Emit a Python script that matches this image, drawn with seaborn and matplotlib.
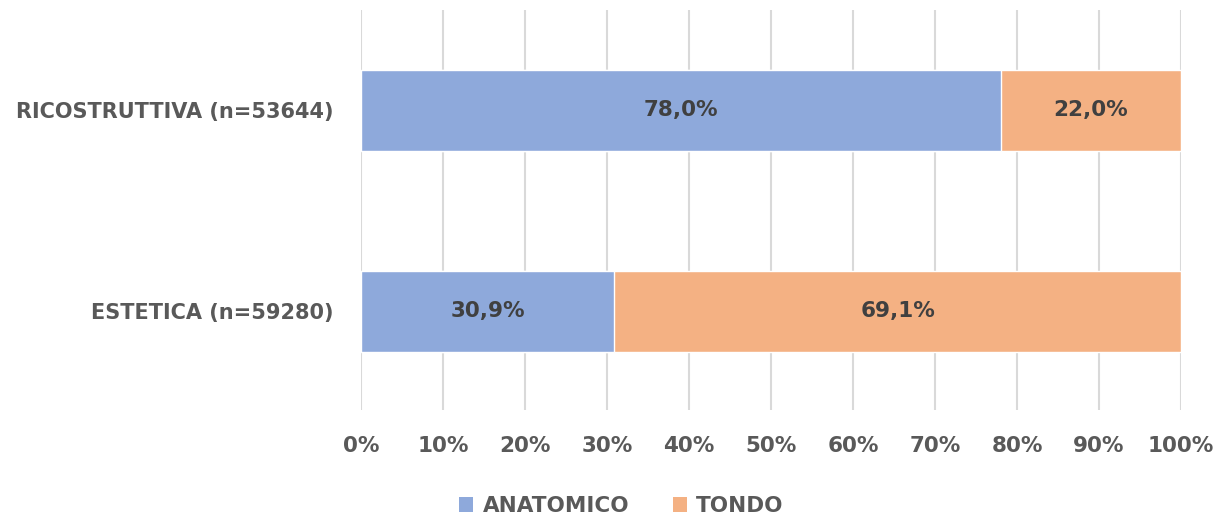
import matplotlib
matplotlib.use("Agg")
import matplotlib.pyplot as plt
from matplotlib.patches import Patch
import seaborn as sns
import pandas as pd

categories = ["RICOSTRUTTIVA (n=53644)", "ESTETICA (n=59280)"]
anatomico = [78.0, 30.9]
tondo = [22.0, 69.1]
series_names = ["ANATOMICO", "TONDO"]
tick_values = [0, 10, 20, 30, 40, 50, 60, 70, 80, 90, 100]

BLUE = "#8EA9DB"
ORANGE = "#F4B183"
TEXT = "#595959"
LABEL = "#404040"

sns.set_theme(style="white")
plt.rcParams["font.family"] = ["DejaVu Sans"]

df = pd.DataFrame({
    "categoria": categories,
    "anatomico": anatomico,
    "tondo": tondo,
})
df["totale"] = df["anatomico"] + df["tondo"]

fig = plt.figure(figsize=(12.26, 5.2), dpi=100)
ax = fig.add_axes([0.2945, 0.2115, 0.9633 - 0.2945, 0.981 - 0.2115])

# stacked bars: full total in orange, anatomico share in blue on top
sns.barplot(data=df, x="totale", y="categoria", orient="h", color=ORANGE,
            width=0.406, saturation=1, ax=ax, zorder=3)
sns.barplot(data=df, x="anatomico", y="categoria", orient="h", color=BLUE,
            width=0.406, saturation=1, ax=ax, zorder=3)

FS = 15.5
for i, (a, t) in enumerate(zip(anatomico, tondo)):
    ax.text(a / 2, i, f"{a:.1f}%".replace(".", ","), ha="center", va="center",
            fontsize=FS, fontweight="bold", color=LABEL, zorder=4)
    ax.text(a + t / 2, i, f"{t:.1f}%".replace(".", ","), ha="center", va="center",
            fontsize=FS, fontweight="bold", color=LABEL, zorder=4)

ax.set_xlim(0, 100)
ax.set_ylim(1.49, -0.5)
ax.set_xticks(tick_values)
ax.set_xticklabels([f"{v}%" for v in tick_values])
ax.tick_params(axis="x", labelsize=FS, labelcolor=TEXT, length=0, pad=19)
ax.tick_params(axis="y", labelsize=15, labelcolor=TEXT, length=0, pad=20)
for lbl in ax.get_xticklabels() + ax.get_yticklabels():
    lbl.set_fontweight("bold")
ax.set_xlabel("")
ax.set_ylabel("")
ax.grid(axis="x", color="#D9D9D9", linewidth=1.5, zorder=0)
ax.grid(axis="y", visible=False)
for s in ax.spines.values():
    s.set_visible(False)

handles = [Patch(facecolor=BLUE, edgecolor="none"),
           Patch(facecolor=ORANGE, edgecolor="none")]
leg = fig.legend(handles, series_names, loc="center", bbox_to_anchor=(0.507, 0.027),
                 ncol=2, frameon=False, fontsize=FS, handlelength=0.65,
                 handleheight=0.65, handletextpad=0.45, columnspacing=2.0)
for t in leg.get_texts():
    t.set_color(TEXT)
    t.set_fontweight("bold")

fig.savefig("out.png", dpi=100)
